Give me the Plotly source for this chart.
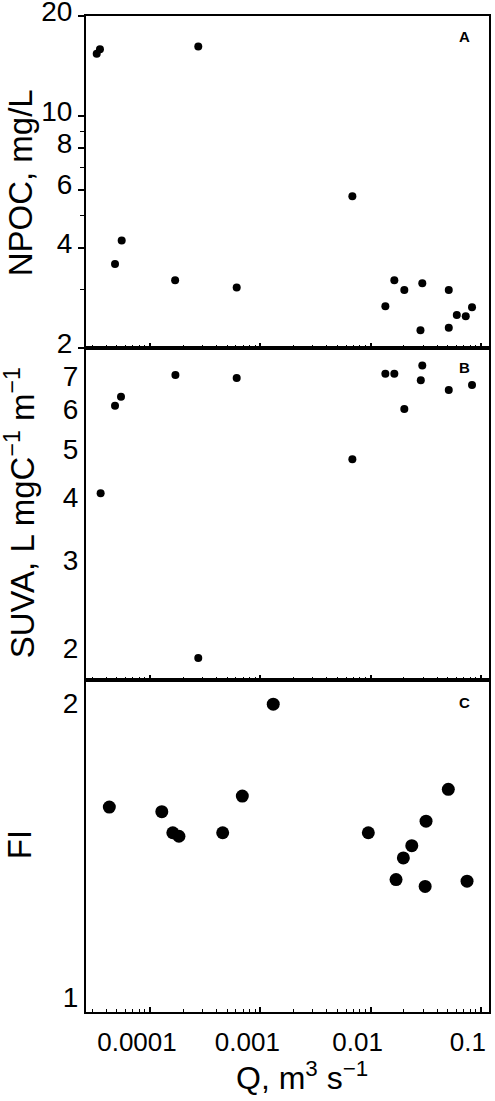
import plotly.graph_objects as go
from plotly.subplots import make_subplots
import numpy as np

# panel A: NPOC vs discharge
q_a = [3.29e-5, 3.52e-5, 2.74e-4, 4.82e-5, 5.54e-5, 1.69e-4, 6.11e-4, 6.83e-3, 0.0164,
       0.0202, 0.0294, 0.0511, 0.0136, 0.0604, 0.0728, 0.0830, 0.0283, 0.0511]
npoc = [15.4, 15.9, 16.2, 3.58, 4.21, 3.20, 3.04, 5.73, 3.20,
        2.99, 3.13, 2.99, 2.67, 2.51, 2.49, 2.65, 2.26, 2.30]

# panel B: SUVA vs discharge
q_b = [3.57e-5, 4.82e-5, 5.46e-5, 1.70e-4, 6.11e-4, 2.74e-4, 0.0136,
       0.0164, 0.0294, 0.0285, 0.0511, 0.0830, 0.0202, 6.83e-3]
suva = [4.08, 6.10, 6.36, 7.03, 6.93, 1.91, 7.07,
        7.07, 7.34, 6.86, 6.56, 6.71, 6.01, 4.77]

# panel C: FI vs discharge
q_c = [4.28e-5, 1.28e-4, 1.61e-4, 1.83e-4, 4.56e-4, 6.87e-4, 1.31e-3, 9.53e-3,
       0.0170, 0.0198, 0.0236, 0.0312, 0.0318, 0.0506, 0.0748]
fi = [1.565, 1.548, 1.473, 1.461, 1.473, 1.606, 1.995, 1.473,
      1.319, 1.388, 1.429, 1.298, 1.514, 1.632, 1.314]

x_ticks = [1e-4, 1e-3, 1e-2, 1e-1]
x_labels = ["0.0001", "0.001", "0.01", "0.1"]

FONT = "Liberation Sans, Arial, sans-serif"

fig = make_subplots(rows=3, cols=1, shared_xaxes=True, vertical_spacing=0)

fig.add_trace(go.Scatter(x=q_a, y=npoc, mode="markers",
                         marker=dict(color="black", size=8)), row=1, col=1)
fig.add_trace(go.Scatter(x=q_b, y=suva, mode="markers",
                         marker=dict(color="black", size=8)), row=2, col=1)
fig.add_trace(go.Scatter(x=q_c, y=fi, mode="markers",
                         marker=dict(color="black", size=13)), row=3, col=1)

fig.update_xaxes(type="log", range=[-4.58, -0.927], showline=True, linecolor="black",
                 linewidth=2, mirror=True, ticks="inside", ticklen=5, tickwidth=1.5,
                 tickcolor="black", tickvals=x_ticks, ticktext=x_labels,
                 minor=dict(ticks="inside", ticklen=3, tickwidth=1, tickcolor="black",
                            dtick="D1", showgrid=False),
                 showgrid=False, zeroline=False, automargin=False,
                 tickfont=dict(family=FONT, size=26, color="black"))
fig.update_xaxes(ticklabelshift=-13, ticklabelstandoff=6, row=3, col=1)

fig.update_yaxes(type="log", showline=True, linecolor="black", linewidth=2, mirror=True,
                 showgrid=False, zeroline=False, automargin=False,
                 ticklabeloverflow="allow",
                 tickfont=dict(family=FONT, size=28, color="black"))
fig.update_yaxes(range=[np.log10(2) - 0.0005, np.log10(20) + 0.0005],
                 tickvals=[2, 4, 6, 8, 10, 20],
                 ticks="outside", ticklen=6, tickwidth=1.5, tickcolor="black",
                 ticklabelshift=-5,
                 minor=dict(tickvals=[3, 5, 7, 9], ticks="outside", ticklen=4,
                            tickwidth=1, tickcolor="black", showgrid=False),
                 row=1, col=1)
fig.update_yaxes(range=[np.log10(1.726), np.log10(7.96)], tickvals=[2, 3, 4, 5, 6, 7],
                 ticks="", row=2, col=1)
fig.update_yaxes(range=[-0.0154, 0.3247], tickvals=[1, 2], ticks="", row=3, col=1)

# axis titles and panel letters
y_titles = [("NPOC, mg/L", 0.8323),
            ("SUVA, L mgC<sup>−1</sup> m<sup>−1</sup>", 0.501),
            ("FI", 0.1677)]
for txt, yy in y_titles:
    fig.add_annotation(text=txt, xref="paper", yref="paper", x=-0.163, y=yy,
                       xanchor="center", yanchor="middle", textangle=-90, showarrow=False,
                       font=dict(family=FONT, size=33, color="black"))

fig.add_annotation(text="Q, m<sup>3</sup> s<sup>−1</sup>", xref="paper", yref="paper",
                   x=0.536, y=-0.064, xanchor="center", yanchor="middle", showarrow=False,
                   font=dict(family=FONT, size=32, color="black"))

for letter, yy in [("A", 0.979), ("B", 0.6466), ("C", 0.3112)]:
    fig.add_annotation(text="<b>" + letter + "</b>", xref="paper", yref="paper",
                       x=0.938, y=yy, xanchor="center", yanchor="middle", showarrow=False,
                       font=dict(family=FONT, size=15, color="black"))

fig.update_layout(template="none", width=495, height=1101, showlegend=False,
                  margin=dict(l=86, r=6, t=16, b=89),
                  paper_bgcolor="white", plot_bgcolor="white")

fig.write_html("out.html", config={"displayModeBar": False},
               post_script="document.body.style.margin='0px';")
